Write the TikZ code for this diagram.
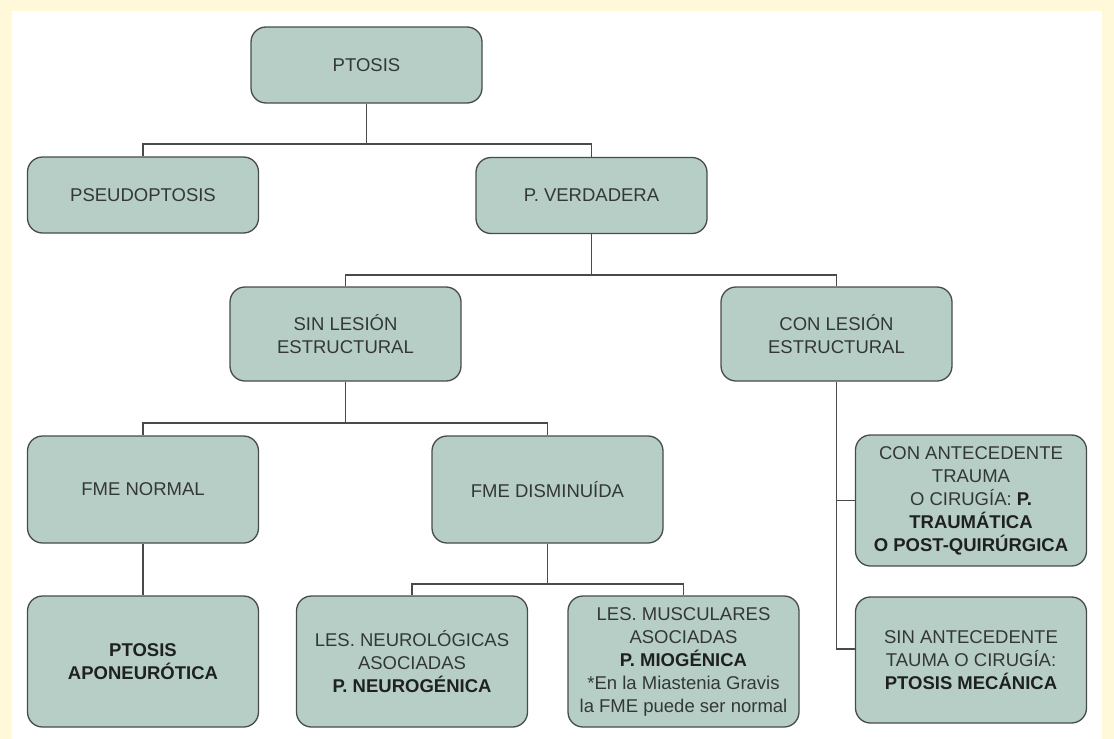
\documentclass[tikz,border=0pt]{standalone}
\usepackage{fontspec}
\setmainfont{Liberation Sans}

\definecolor{fondo}{HTML}{FFF9DA}
\definecolor{relleno}{HTML}{B7CEC6}
\definecolor{borde}{HTML}{474C4A}
\definecolor{texto}{HTML}{333735}
\definecolor{oscuro}{HTML}{1E2120}
\newcommand{\resalta}[1]{\textbf{\color{oscuro}#1}}

\tikzset{
	caja/.style={draw=borde, fill=relleno, line width=1.3pt, rounded corners=15pt, minimum width=231pt, align=center, text=texto, inner sep=1pt, font=\fontsize{18.5}{23}\selectfont},
	rama/.style={draw=borde, line width=1.8pt}
}

\begin{document}
\begin{tikzpicture}[x=1pt, y=-1pt]
	\fill[fondo] (0,0) rectangle (1114,739);
	\fill[white] (12,11) rectangle (1102,739);
	\useasboundingbox (0,0) rectangle (1114,739);

	\node[caja, minimum height=76pt] (ptosis) at (366.5,65) {PTOSIS};
	\node[caja, minimum height=76pt] (pseudo) at (143,195) {PSEUDOPTOSIS};
	\node[caja, minimum height=76pt] (verdadera) at (591.5,195.5) {P. VERDADERA};
	\node[caja, minimum height=94pt] (sinlesion) at (345.5,334) {SIN LESIÓN\\ESTRUCTURAL};
	\node[caja, minimum height=94pt] (conlesion) at (836.5,334) {CON LESIÓN\\ESTRUCTURAL};
	\node[caja, minimum height=107pt] (fmenormal) at (143,489.5) {FME NORMAL};
	\node[caja, minimum height=107pt] (fmedism) at (547.5,489.5) {FME DISMINUÍDA};
	\node[caja, minimum height=131pt] (aponeur) at (143,661.5) {\resalta{PTOSIS}\\\resalta{APONEURÓTICA}};
	\node[caja, minimum height=131pt] (neurog) at (412,661.5) {LES. NEUROLÓGICAS\\ASOCIADAS\\\resalta{P. NEUROGÉNICA}};
	\node[caja, minimum height=131pt] (miog) at (683.5,661.5) {LES. MUSCULARES\\ASOCIADAS\\\resalta{P. MIOGÉNICA}\\*En la Miastenia Gravis\\la FME puede ser normal};
	\node[caja, minimum height=131pt] (trauma) at (971,500.5) {CON ANTECEDENTE\\TRAUMA\\O CIRUGÍA: \resalta{P.}\\\resalta{TRAUMÁTICA}\\\resalta{O POST-QUIRÚRGICA}};
	\node[caja, minimum height=126pt] (mecanica) at (971,660) {SIN ANTECEDENTE\\TAUMA O CIRUGÍA:\\\resalta{PTOSIS MECÁNICA}};

	\coordinate (bus1) at (366.5,144);
	\coordinate (bus2) at (591.5,275);
	\coordinate (bus3) at (345.5,423);
	\coordinate (bus4) at (547.5,584);

	\draw[rama] (ptosis.south) -- (bus1);
	\draw[rama] (pseudo.north) |- (bus1) -| (verdadera.north);
	\draw[rama] (verdadera.south) -- (bus2);
	\draw[rama] (sinlesion.north) |- (bus2) -| (conlesion.north);
	\draw[rama] (sinlesion.south) -- (bus3);
	\draw[rama] (fmenormal.north) |- (bus3) -| (fmedism.north);
	\draw[rama] (fmenormal.south) -- (aponeur.north);
	\draw[rama] (fmedism.south) -- (bus4);
	\draw[rama] (neurog.north) |- (bus4) -| (miog.north);
	\draw[rama] (conlesion.south) |- ([yshift=11pt]mecanica.west);
	\draw[rama] (trauma.west) -- (trauma.west -| conlesion.south);
\end{tikzpicture}
\end{document}
